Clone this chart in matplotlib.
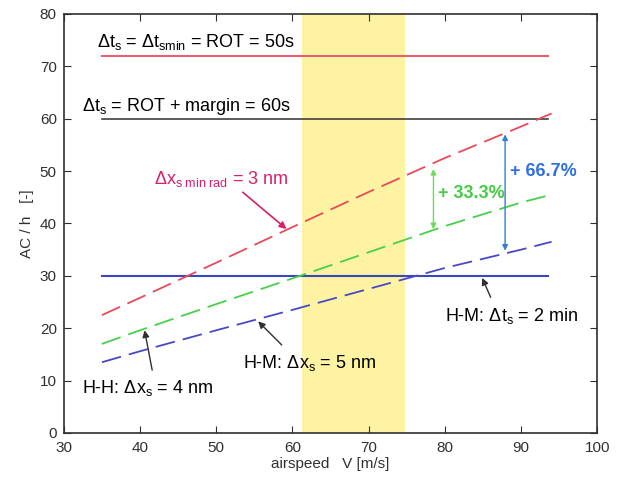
import matplotlib
matplotlib.use('Agg')
import matplotlib.pyplot as plt

plt.rcParams['font.family'] = ['Liberation Sans', 'DejaVu Sans']
plt.rcParams['mathtext.fontset'] = 'custom'
plt.rcParams['mathtext.rm'] = 'Liberation Sans'
plt.rcParams['mathtext.it'] = 'Liberation Sans'
plt.rcParams['mathtext.bf'] = 'Liberation Sans:bold'

# airspeed V [m/s]
v = [35, 40, 50, 60, 70, 80, 90, 94]
# AC/h for separations
ac_3nm = [22.5, 25.8, 32.5, 39.3, 46.0, 52.5, 58.5, 61.0]
ac_4nm = [17.0, 19.6, 24.6, 29.5, 34.5, 39.5, 44.0, 45.5]
ac_5nm = [13.5, 15.6, 19.6, 23.5, 27.5, 31.5, 35.0, 36.5]

# flat limits
v_flat = [35, 93.5]
ac_rot50 = 72
ac_rot60 = 60
ac_2min = 30

band = (61.2, 74.8)  # yellow airspeed band

fig = plt.figure(figsize=(6.19, 4.8), dpi=100)
ax = fig.add_axes([0.103, 0.098, 0.862, 0.873])

ax.axvspan(band[0], band[1], color='#fdf3a2', lw=0, zorder=0)

ax.plot(v_flat, [ac_rot50] * 2, color='#e86070', lw=1.5)
ax.plot(v_flat, [ac_rot60] * 2, color='#404040', lw=1.2)
ax.plot(v_flat, [ac_2min] * 2, color='#3a48c0', lw=1.5)

dash = (0, (11, 4.5))
ax.plot(v, ac_3nm, color='#e84a5a', lw=1.3, linestyle=dash)
ax.plot(v, ac_4nm, color='#48d048', lw=1.3, linestyle=dash)
ax.plot(v, ac_5nm, color='#4848c8', lw=1.3, linestyle=dash)

fs = 13
ax.text(34.4, 74.6, r'$\Delta t_s$ = $\Delta t_{smin}$ = ROT = 50s', fontsize=fs, va='center')
ax.text(32.4, 62.3, r'$\Delta t_s$ = ROT + margin = 60s', fontsize=fs, va='center')

ax.text(41.9, 48.4, r'$\Delta x_{s\ min\ rad}$ = 3 nm', fontsize=fs, va='center', color='#d8206a')
ax.annotate('', xy=(59.5, 38.6), xytext=(53.2, 46.3),
            arrowprops=dict(arrowstyle='-|>', color='#d8206a', lw=1.2, mutation_scale=10))

# percentage arrows
ax.annotate('', xy=(78.5, 38.9), xytext=(78.5, 50.4),
            arrowprops=dict(arrowstyle='<|-|>', color='#66dd55', lw=1.0, mutation_scale=8,
                            shrinkA=0, shrinkB=0))
ax.text(79.1, 45.8, '+ 33.3%', fontsize=fs, fontweight='bold', color='#44cc44', va='center')
ax.annotate('', xy=(87.9, 34.8), xytext=(87.9, 57.0),
            arrowprops=dict(arrowstyle='<|-|>', color='#2f7fd8', lw=1.0, mutation_scale=8,
                            shrinkA=0, shrinkB=0))
ax.text(88.5, 50.0, '+ 66.7%', fontsize=fs, fontweight='bold', color='#2f6fe0', va='center')

# black callouts
arw = dict(arrowstyle='-|>', color='#303030', lw=1.0, mutation_scale=10, shrinkA=0, shrinkB=0)
ax.text(80.0, 22.4, r'H-M: $\Delta t_s$ = 2 min', fontsize=fs, va='center')
ax.annotate('', xy=(84.9, 29.6), xytext=(86.0, 25.9), arrowprops=arw)
ax.text(53.5, 13.4, r'H-M: $\Delta x_s$ = 5 nm', fontsize=fs, va='center')
ax.annotate('', xy=(55.5, 21.3), xytext=(58.6, 16.8), arrowprops=arw)
ax.text(32.4, 8.6, r'H-H: $\Delta x_s$ = 4 nm', fontsize=fs, va='center')
ax.annotate('', xy=(40.6, 19.6), xytext=(41.6, 12.0), arrowprops=arw)

ax.set_xlim(30, 100)
ax.set_ylim(0, 80)
ax.set_xticks(range(30, 101, 10))
ax.set_yticks(range(0, 81, 10))
ax.tick_params(direction='in', top=True, right=True, length=5, labelsize=11,
               labelcolor='#303030', color='#303030')
ax.tick_params(axis='x', pad=6)
ax.tick_params(axis='y', pad=5)
for s in ax.spines.values():
    s.set_color('#303030')
    s.set_linewidth(1.2)

ax.set_xlabel('airspeed   V [m/s]', fontsize=11, color='#303030', labelpad=1)
ax.set_ylabel('AC / h   [-]', fontsize=11, color='#303030', labelpad=4)

fig.savefig('out.png', dpi=100)
